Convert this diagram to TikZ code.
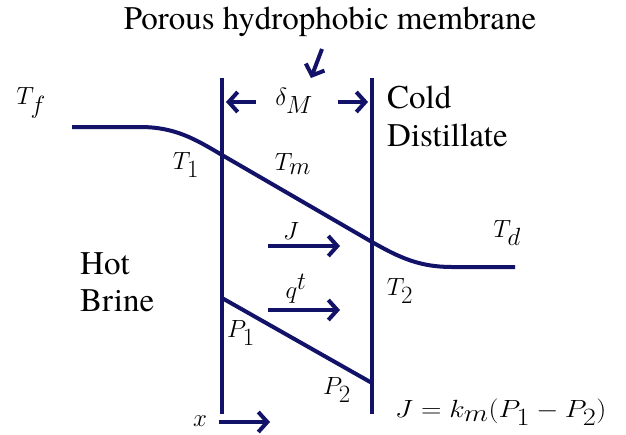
\documentclass[tikz,border=0pt]{standalone}
\usepackage{fontspec}
\setmainfont{TeX Gyre Termes}
\usetikzlibrary{arrows.meta}
\definecolor{navy}{RGB}{18,18,105}
\tikzset{
  ln/.style={draw=navy, line width=4pt},
  ar/.style={ln, -{Straight Barb[length=9pt,width=20pt,line width=4pt]}},
  lbl/.style={inner sep=0pt, font=\rmfamily\fontsize{33}{38}\selectfont},
  mlbl/.style={inner sep=0pt, font=\rmfamily\fontsize{35}{40}\selectfont},
}
\begin{document}
\begin{tikzpicture}[x=1pt,y=-1pt]
\useasboundingbox (0,0) rectangle (626,434);
% membrane walls
\coordinate (LT) at (222,78); \coordinate (LB) at (222,414);
\coordinate (RT) at (372,78); \coordinate (RB) at (372,414);
\draw[ln] (LT) -- (LB);
\draw[ln] (RT) -- (RB);
% temperature profile
\coordinate (T0) at (72,127);
\coordinate (TL) at (222,155);
\coordinate (TR) at (372,242);
\coordinate (T3) at (515,267);
\draw[ln] (T0) -- (140,127) .. controls (175,127) and (195,139) .. (TL) -- (TR)
  .. controls (400,258) and (420,267) .. (452,267) -- (T3);
% pressure profile
\coordinate (PL) at (222,298);
\coordinate (PR) at (372,383);
\draw[ln] (PL) -- (PR);
% thickness arrows
\coordinate (dl0) at (256,102); \coordinate (dl1) at (226,102);
\coordinate (dr0) at (338,102); \coordinate (dr1) at (368,102);
\draw[ar] (dl0) -- (dl1);
\draw[ar] (dr0) -- (dr1);
% membrane pointer
\coordinate (m0) at (322,49); \coordinate (m1) at (311,78);
\draw[ar] (m0) -- (m1);
% flux arrows
\coordinate (j0) at (268,246); \coordinate (j1) at (340,246);
\draw[ar] (j0) -- (j1);
\coordinate (q0) at (268,310); \coordinate (q1) at (340,310);
\draw[ar] (q0) -- (q1);
\coordinate (x0) at (219,422); \coordinate (x1) at (270,422);
\draw[ar] (x0) -- (x1);
% labels
\node[lbl] (title) at (330,22) {Porous hydrophobic membrane};
\node[mlbl] (delta) at (294,101) {$\delta_M$};
\node[lbl,anchor=west] (cold) at (387,97) {Cold};
\node[lbl,anchor=west] (dist) at (387,135) {Distillate};
\node[mlbl] (Tf) at (31,103) {$T_f$};
\node[mlbl] (T1) at (186,165) {$T_1$};
\node[mlbl] (Tm) at (293,164) {$T_m$};
\node[mlbl] (Td) at (507,233) {$T_d$};
\node[mlbl] (T2) at (400,291) {$T_2$};
\node[lbl,anchor=west] (hot) at (80,264) {Hot};
\node[lbl,anchor=west] (brine) at (80,301) {Brine};
\node[mlbl] (J) at (291,231) {$J$};
\node[mlbl] (qt) at (296,289) {$q^t$};
\node[mlbl] (P1) at (241,333) {$P_1$};
\node[mlbl] (P2) at (337,390) {$P_2$};
\node[mlbl] (x) at (200,421) {$x$};
\node[mlbl,anchor=west] (eq) at (395,412) {\scalebox{1.14}[1]{$J = k_m(P_1 - P_2)$}};
\end{tikzpicture}
\end{document}
